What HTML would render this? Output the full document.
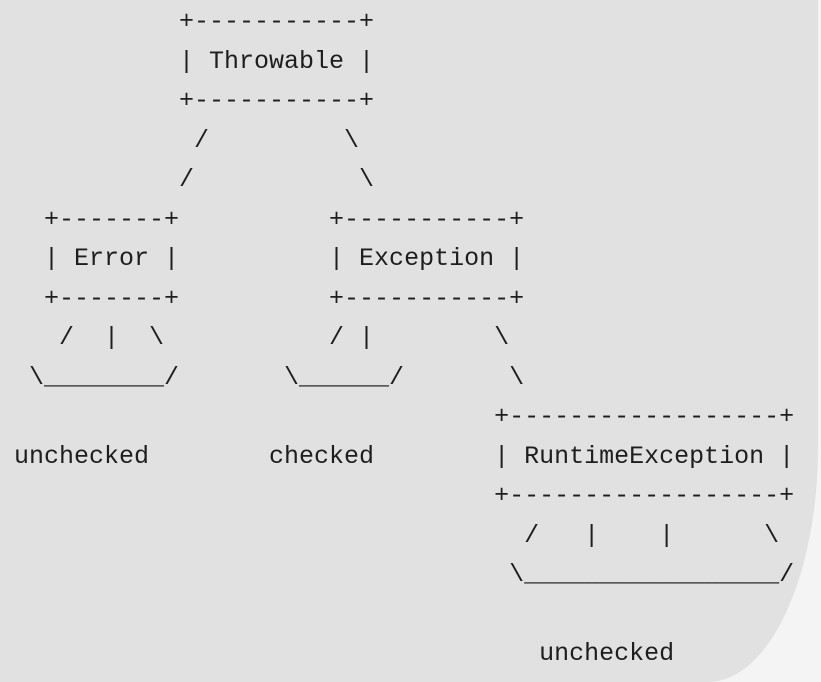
<!DOCTYPE html>
<html><head><meta charset="utf-8"><style>
html,body{margin:0;padding:0;width:821px;height:682px;overflow:hidden;background:#f4f4f4;}
#bg{position:absolute;left:0;top:0;width:818px;height:682px;background:#e1e1e1;border-bottom-right-radius:110px 235px;}
pre{position:absolute;left:14px;top:2px;margin:0;font-family:"Liberation Mono",monospace;font-size:25px;line-height:39.5px;color:#1e1e1e;}
</style></head><body>
<div id="bg"></div>
<pre>           +-----------+
           | Throwable |
           +-----------+
            /         \
           /           \
  +-------+          +-----------+
  | Error |          | Exception |
  +-------+          +-----------+
   /  |  \           / |        \
 \________/       \______/       \
                                +------------------+
unchecked        checked        | RuntimeException |
                                +------------------+
                                  /   |    |      \
                                 \_________________/

                                   unchecked</pre>
</body></html>
